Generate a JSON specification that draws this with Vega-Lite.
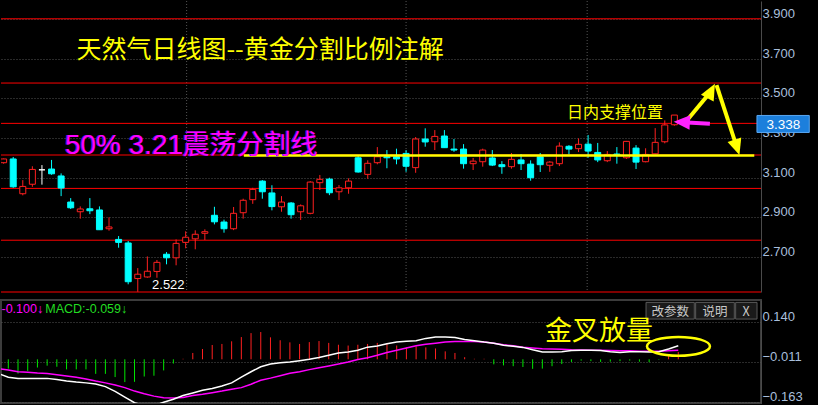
{
"$schema": "https://vega.github.io/schema/vega-lite/v6.json",
"background": "#000000",
"padding": {"left": 0, "top": 0, "right": 0, "bottom": 5},
"spacing": 6,
"config": {"view": {"stroke": null}, "axis": {"title": null}},
"resolve": {"scale": {"x": "independent", "y": "independent"}},
"datasets": {
"candles": [
{"k":0,"o":3.175,"c":3.194,"h":3.196,"l":3.170,"d":"up"},
{"k":1,"o":3.194,"c":3.053,"h":3.204,"l":3.048,"d":"down"},
{"k":2,"o":3.018,"c":3.055,"h":3.087,"l":3.010,"d":"up"},
{"k":3,"o":3.066,"c":3.141,"h":3.157,"l":3.053,"d":"up"},
{"k":4,"o":3.139,"c":3.139,"h":3.163,"l":3.064,"d":"flat"},
{"k":5,"o":3.143,"c":3.119,"h":3.189,"l":3.114,"d":"down"},
{"k":6,"o":3.108,"c":3.047,"h":3.121,"l":3.006,"d":"down"},
{"k":7,"o":2.976,"c":2.947,"h":2.996,"l":2.941,"d":"down"},
{"k":8,"o":2.927,"c":2.941,"h":2.954,"l":2.892,"d":"up"},
{"k":9,"o":2.942,"c":2.932,"h":2.996,"l":2.915,"d":"down"},
{"k":10,"o":2.936,"c":2.836,"h":2.954,"l":2.836,"d":"down"},
{"k":11,"o":2.841,"c":2.850,"h":2.899,"l":2.831,"d":"up"},
{"k":12,"o":2.787,"c":2.772,"h":2.804,"l":2.745,"d":"down"},
{"k":13,"o":2.769,"c":2.573,"h":2.779,"l":2.560,"d":"down"},
{"k":14,"o":2.589,"c":2.611,"h":2.642,"l":2.522,"d":"up"},
{"k":15,"o":2.597,"c":2.626,"h":2.701,"l":2.593,"d":"up"},
{"k":16,"o":2.625,"c":2.671,"h":2.683,"l":2.593,"d":"up"},
{"k":17,"o":2.712,"c":2.694,"h":2.723,"l":2.661,"d":"down"},
{"k":18,"o":2.694,"c":2.767,"h":2.787,"l":2.656,"d":"up"},
{"k":19,"o":2.772,"c":2.798,"h":2.828,"l":2.742,"d":"up"},
{"k":20,"o":2.790,"c":2.813,"h":2.833,"l":2.737,"d":"up"},
{"k":21,"o":2.818,"c":2.826,"h":2.838,"l":2.784,"d":"up"},
{"k":22,"o":2.909,"c":2.876,"h":2.952,"l":2.863,"d":"down"},
{"k":23,"o":2.875,"c":2.841,"h":2.887,"l":2.821,"d":"down"},
{"k":24,"o":2.841,"c":2.919,"h":2.951,"l":2.834,"d":"up"},
{"k":25,"o":2.922,"c":2.985,"h":2.993,"l":2.892,"d":"up"},
{"k":26,"o":2.988,"c":3.040,"h":3.048,"l":2.967,"d":"up"},
{"k":27,"o":3.082,"c":3.028,"h":3.087,"l":2.993,"d":"down"},
{"k":28,"o":3.022,"c":2.953,"h":3.061,"l":2.934,"d":"down"},
{"k":29,"o":2.952,"c":2.976,"h":3.006,"l":2.927,"d":"up"},
{"k":30,"o":2.971,"c":2.912,"h":2.976,"l":2.892,"d":"down"},
{"k":31,"o":2.927,"c":2.957,"h":2.964,"l":2.885,"d":"up"},
{"k":32,"o":2.919,"c":3.077,"h":3.082,"l":2.914,"d":"up"},
{"k":33,"o":3.074,"c":3.091,"h":3.113,"l":3.037,"d":"up"},
{"k":34,"o":3.092,"c":3.023,"h":3.099,"l":3.011,"d":"down"},
{"k":35,"o":3.028,"c":3.048,"h":3.062,"l":2.986,"d":"up"},
{"k":36,"o":3.048,"c":3.082,"h":3.096,"l":3.018,"d":"up"},
{"k":37,"o":3.200,"c":3.128,"h":3.209,"l":3.125,"d":"down"},
{"k":38,"o":3.116,"c":3.172,"h":3.187,"l":3.094,"d":"up"},
{"k":39,"o":3.175,"c":3.205,"h":3.254,"l":3.167,"d":"up"},
{"k":40,"o":3.205,"c":3.200,"h":3.239,"l":3.147,"d":"down"},
{"k":41,"o":3.205,"c":3.194,"h":3.246,"l":3.167,"d":"down"},
{"k":42,"o":3.222,"c":3.157,"h":3.239,"l":3.129,"d":"down"},
{"k":43,"o":3.150,"c":3.295,"h":3.305,"l":3.124,"d":"up"},
{"k":44,"o":3.295,"c":3.280,"h":3.349,"l":3.256,"d":"down"},
{"k":45,"o":3.281,"c":3.308,"h":3.340,"l":3.239,"d":"up"},
{"k":46,"o":3.310,"c":3.251,"h":3.340,"l":3.251,"d":"down"},
{"k":47,"o":3.244,"c":3.239,"h":3.295,"l":3.230,"d":"down"},
{"k":48,"o":3.244,"c":3.170,"h":3.269,"l":3.145,"d":"down"},
{"k":49,"o":3.170,"c":3.183,"h":3.199,"l":3.138,"d":"up"},
{"k":50,"o":3.180,"c":3.239,"h":3.246,"l":3.155,"d":"up"},
{"k":51,"o":3.199,"c":3.163,"h":3.239,"l":3.158,"d":"down"},
{"k":52,"o":3.165,"c":3.155,"h":3.183,"l":3.119,"d":"down"},
{"k":53,"o":3.155,"c":3.192,"h":3.224,"l":3.145,"d":"up"},
{"k":54,"o":3.189,"c":3.170,"h":3.219,"l":3.138,"d":"down"},
{"k":55,"o":3.168,"c":3.099,"h":3.187,"l":3.084,"d":"down"},
{"k":56,"o":3.205,"c":3.165,"h":3.224,"l":3.128,"d":"down"},
{"k":57,"o":3.162,"c":3.178,"h":3.183,"l":3.129,"d":"up"},
{"k":58,"o":3.170,"c":3.259,"h":3.278,"l":3.158,"d":"up"},
{"k":59,"o":3.258,"c":3.244,"h":3.264,"l":3.217,"d":"down"},
{"k":60,"o":3.246,"c":3.268,"h":3.298,"l":3.229,"d":"up"},
{"k":61,"o":3.269,"c":3.234,"h":3.315,"l":3.200,"d":"down"},
{"k":62,"o":3.227,"c":3.189,"h":3.275,"l":3.178,"d":"down"},
{"k":63,"o":3.185,"c":3.217,"h":3.234,"l":3.178,"d":"up"},
{"k":64,"o":3.219,"c":3.212,"h":3.254,"l":3.170,"d":"down"},
{"k":65,"o":3.200,"c":3.283,"h":3.285,"l":3.194,"d":"up"},
{"k":66,"o":3.249,"c":3.178,"h":3.264,"l":3.143,"d":"down"},
{"k":67,"o":3.180,"c":3.217,"h":3.248,"l":3.177,"d":"up"},
{"k":68,"o":3.220,"c":3.278,"h":3.350,"l":3.217,"d":"up"},
{"k":69,"o":3.281,"c":3.366,"h":3.389,"l":3.273,"d":"up"},
{"k":70,"o":3.367,"c":3.416,"h":3.416,"l":3.362,"d":"up"}
],
"macd": [
{"k":0,"hist":null,"dif":-0.054,"dea":-0.036},
{"k":1,"hist":-0.035,"dif":-0.068,"dea":-0.040},
{"k":2,"hist":-0.054,"dif":-0.072,"dea":-0.047},
{"k":3,"hist":-0.044,"dif":-0.072,"dea":-0.049},
{"k":4,"hist":-0.031,"dif":-0.072,"dea":-0.052},
{"k":5,"hist":-0.024,"dif":-0.072,"dea":-0.054},
{"k":6,"hist":-0.028,"dif":-0.076,"dea":-0.058},
{"k":7,"hist":-0.038,"dif":-0.082,"dea":-0.063},
{"k":8,"hist":-0.038,"dif":-0.086,"dea":-0.068},
{"k":9,"hist":-0.038,"dif":-0.089,"dea":-0.074},
{"k":10,"hist":-0.055,"dif":-0.093,"dea":-0.082},
{"k":11,"hist":-0.055,"dif":-0.103,"dea":-0.089},
{"k":12,"hist":-0.067,"dif":-0.121,"dea":-0.097},
{"k":13,"hist":-0.086,"dif":-0.143,"dea":-0.107},
{"k":14,"hist":-0.085,"dif":-0.164,"dea":-0.120},
{"k":15,"hist":-0.065,"dif":-0.175,"dea":-0.130},
{"k":16,"hist":-0.062,"dif":-0.175,"dea":-0.139},
{"k":17,"hist":-0.042,"dif":-0.162,"dea":-0.145},
{"k":18,"hist":-0.016,"dif":-0.151,"dea":-0.146},
{"k":19,"hist":0.002,"dif":-0.137,"dea":-0.144},
{"k":20,"hist":0.024,"dif":-0.127,"dea":-0.137},
{"k":21,"hist":0.039,"dif":-0.117,"dea":-0.132},
{"k":22,"hist":0.054,"dif":-0.110,"dea":-0.126},
{"k":23,"hist":0.058,"dif":-0.101,"dea":-0.120},
{"k":24,"hist":0.068,"dif":-0.089,"dea":-0.113},
{"k":25,"hist":0.084,"dif":-0.067,"dea":-0.107},
{"k":26,"hist":0.099,"dif":-0.047,"dea":-0.094},
{"k":27,"hist":0.103,"dif":-0.028,"dea":-0.079},
{"k":28,"hist":0.083,"dif":-0.018,"dea":-0.071},
{"k":29,"hist":0.072,"dif":-0.013,"dea":-0.062},
{"k":30,"hist":0.064,"dif":-0.010,"dea":-0.053},
{"k":31,"hist":0.058,"dif":-0.005,"dea":-0.047},
{"k":32,"hist":0.065,"dif":0.000,"dea":-0.039},
{"k":33,"hist":0.069,"dif":0.007,"dea":-0.032},
{"k":34,"hist":0.062,"dif":0.015,"dea":-0.025},
{"k":35,"hist":0.055,"dif":0.024,"dea":-0.018},
{"k":36,"hist":0.052,"dif":0.028,"dea":-0.010},
{"k":37,"hist":0.055,"dif":0.034,"dea":-0.001},
{"k":38,"hist":0.058,"dif":0.046,"dea":0.006},
{"k":39,"hist":0.062,"dif":0.050,"dea":0.015},
{"k":40,"hist":0.060,"dif":0.059,"dea":0.026},
{"k":41,"hist":0.052,"dif":0.065,"dea":0.034},
{"k":42,"hist":0.045,"dif":0.068,"dea":0.043},
{"k":43,"hist":0.049,"dif":0.070,"dea":0.051},
{"k":44,"hist":0.045,"dif":0.079,"dea":0.057},
{"k":45,"hist":0.041,"dif":0.084,"dea":0.061},
{"k":46,"hist":0.030,"dif":0.084,"dea":0.065},
{"k":47,"hist":0.024,"dif":0.082,"dea":0.067},
{"k":48,"hist":0.008,"dif":0.075,"dea":0.067},
{"k":49,"hist":0.002,"dif":0.070,"dea":0.067},
{"k":50,"hist":0.002,"dif":0.065,"dea":0.065},
{"k":51,"hist":-0.019,"dif":0.061,"dea":0.061},
{"k":52,"hist":-0.023,"dif":0.053,"dea":0.055},
{"k":53,"hist":-0.026,"dif":0.049,"dea":0.051},
{"k":54,"hist":-0.029,"dif":0.045,"dea":0.046},
{"k":55,"hist":-0.036,"dif":0.036,"dea":0.043},
{"k":56,"hist":-0.035,"dif":0.028,"dea":0.040},
{"k":57,"hist":-0.026,"dif":0.028,"dea":0.039},
{"k":58,"hist":-0.018,"dif":0.029,"dea":0.038},
{"k":59,"hist":-0.010,"dif":0.033,"dea":0.036},
{"k":60,"hist":-0.005,"dif":0.034,"dea":0.035},
{"k":61,"hist":-0.007,"dif":0.034,"dea":0.034},
{"k":62,"hist":-0.010,"dif":0.033,"dea":0.034},
{"k":63,"hist":-0.009,"dif":0.029,"dea":0.033},
{"k":64,"hist":-0.007,"dif":0.026,"dea":0.032},
{"k":65,"hist":-0.005,"dif":0.029,"dea":0.032},
{"k":66,"hist":-0.009,"dif":0.029,"dea":0.030},
{"k":67,"hist":-0.011,"dif":0.028,"dea":0.030},
{"k":68,"hist":-0.002,"dif":0.029,"dea":0.030},
{"k":69,"hist":0.012,"dif":0.039,"dea":0.032},
{"k":70,"hist":0.028,"dif":0.051,"dea":0.034}
],
"fib": [{"p":2.521},{"p":2.783},{"p":3.045},{"p":3.214},{"p":3.374},{"p":3.578},{"p":3.903}],
"vlines": [{"k":19.1},{"k":42.0},{"k":60.9}],
"shafts": [
{"id":"A","k1":71.0,"p1":3.371,"k2":73.79,"p2":3.534},
{"id":"B","k1":74.40,"p1":3.568,"k2":76.50,"p2":3.257},
{"id":"M","k1":73.71,"p1":3.372,"k2":70.87,"p2":3.380}
],
"heads": [
{"id":"A","k":73.79,"p":3.534},
{"id":"B","k":76.50,"p":3.257},
{"id":"M","k":70.87,"p":3.380}
],
"buttons": [
{"t":"改参数","k1":66.68,"k2":71.65,"kc":69.17},
{"t":"说明","k1":71.79,"k2":75.77,"kc":73.78},
{"t":"X","k1":75.91,"k2":78.11,"kc":76.99}
]
},
"vconcat": [
{
"width": 760, "height": 291,
"layer": [
{"data": {"name": "vlines"}, "mark": {"type": "rule", "color": "#555555", "strokeDash": [1, 2], "strokeWidth": 1},
 "encoding": {"x": {"field": "k", "type": "quantitative", "scale": {"domain": [0.248, 78.52], "nice": false, "zero": false}, "axis": null}}},
{"data": {"name": "fib"}, "mark": {"type": "rule", "color": "#ff0000", "strokeWidth": 1},
 "encoding": {"y": {"field": "p", "type": "quantitative", "title": null, "scale": {"domain": [2.521, 3.993], "nice": false, "zero": false},
  "axis": {"orient": "right", "values": [2.7, 2.9, 3.1, 3.3, 3.5, 3.7, 3.9], "format": ".3f", "grid": true, "gridColor": "#555555", "gridDash": [1, 2], "domain": true, "domainColor": "#4a4a4a", "ticks": false, "labelColor": "#a9bfdc", "labelFont": "Liberation Sans", "labelFontSize": 13, "labelPadding": 1, "labelBaseline": "alphabetic", "labelOffset": -1.5, "labelFlush": false, "labelOverlap": false, "minExtent": 58, "maxExtent": 58, "title": null}}}},
{"data": {"name": "candles"}, "mark": {"type": "rule", "strokeWidth": 1, "clip": true},
 "encoding": {"x": {"field": "k", "type": "quantitative", "scale": {"domain": [0.248, 78.52], "nice": false, "zero": false}, "axis": null},
  "y": {"field": "h", "type": "quantitative", "title": null, "scale": {"domain": [2.521, 3.993], "nice": false, "zero": false}},
  "y2": {"field": "l"},
  "color": {"field": "d", "type": "nominal", "scale": {"domain": ["up", "down", "flat"], "range": ["#ff2020", "#00ffff", "#ffffff"]}, "legend": null}}},
{"data": {"name": "candles"}, "mark": {"type": "bar", "size": 6, "strokeWidth": 1, "clip": true},
 "encoding": {"x": {"field": "k", "type": "quantitative", "scale": {"domain": [0.248, 78.52], "nice": false, "zero": false}, "axis": null},
  "y": {"field": "o", "type": "quantitative", "title": null, "scale": {"domain": [2.521, 3.993], "nice": false, "zero": false}},
  "y2": {"field": "c"},
  "fill": {"field": "d", "type": "nominal", "scale": {"domain": ["up", "down", "flat"], "range": ["#000000", "#00ffff", "#ffffff"]}, "legend": null},
  "stroke": {"field": "d", "type": "nominal", "scale": {"domain": ["up", "down", "flat"], "range": ["#ff2020", "#00ffff", "#ffffff"]}, "legend": null}}},
{"data": {"values": [{"k1": 25.07, "k2": 78.34, "p": 3.211}]}, "mark": {"type": "rule", "color": "#ffff00", "strokeWidth": 2.5},
 "encoding": {"x": {"field": "k1", "type": "quantitative", "axis": null},
  "x2": {"field": "k2"},
  "y": {"field": "p", "type": "quantitative", "title": null}}},
{"data": {"values": [{"t": "天然气日线图--黄金分割比例注解", "k": 7.6, "p": 3.704}]}, "mark": {"type": "text", "align": "left", "baseline": "alphabetic", "font": "Noto Sans CJK SC", "fontSize": 25, "color": "#ffff00"},
 "encoding": {"x": {"field": "k", "type": "quantitative", "axis": null}, "y": {"field": "p", "type": "quantitative", "title": null}, "text": {"field": "t"}}},
{"data": {"values": [{"t": "50% 3.21", "k": 6.4, "p": 3.220}]}, "mark": {"type": "text", "align": "left", "baseline": "alphabetic", "font": "Liberation Sans", "fontSize": 28, "color": "#5a1ae0", "dx": -1},
 "encoding": {"x": {"field": "k", "type": "quantitative", "axis": null}, "y": {"field": "p", "type": "quantitative", "title": null}, "text": {"field": "t"}}},
{"data": {"values": [{"t": "50% 3.21", "k": 6.4, "p": 3.220}]}, "mark": {"type": "text", "align": "left", "baseline": "alphabetic", "font": "Liberation Sans", "fontSize": 28, "color": "#ff00ff"},
 "encoding": {"x": {"field": "k", "type": "quantitative", "axis": null}, "y": {"field": "p", "type": "quantitative", "title": null}, "text": {"field": "t"}}},
{"data": {"values": [{"t": "震荡分割线", "k": 18.7, "p": 3.220}]}, "mark": {"type": "text", "align": "left", "baseline": "alphabetic", "font": "Noto Sans CJK SC", "fontSize": 27, "color": "#5a1ae0", "dx": -1},
 "encoding": {"x": {"field": "k", "type": "quantitative", "axis": null}, "y": {"field": "p", "type": "quantitative", "title": null}, "text": {"field": "t"}}},
{"data": {"values": [{"t": "震荡分割线", "k": 18.7, "p": 3.220}]}, "mark": {"type": "text", "align": "left", "baseline": "alphabetic", "font": "Noto Sans CJK SC", "fontSize": 27, "color": "#ff00ff"},
 "encoding": {"x": {"field": "k", "type": "quantitative", "axis": null}, "y": {"field": "p", "type": "quantitative", "title": null}, "text": {"field": "t"}}},
{"data": {"values": [{"t": "日内支撑位置", "k": 58.8, "p": 3.402}]}, "mark": {"type": "text", "align": "left", "baseline": "alphabetic", "font": "Noto Sans CJK SC", "fontSize": 16, "color": "#ffff00"},
 "encoding": {"x": {"field": "k", "type": "quantitative", "axis": null}, "y": {"field": "p", "type": "quantitative", "title": null}, "text": {"field": "t"}}},
{"data": {"values": [{"t": "2.522", "k": 15.49, "p": 2.534}]}, "mark": {"type": "text", "align": "left", "baseline": "alphabetic", "font": "Liberation Sans", "fontSize": 13, "color": "#ffffff"},
 "encoding": {"x": {"field": "k", "type": "quantitative", "axis": null}, "y": {"field": "p", "type": "quantitative", "title": null}, "text": {"field": "t"}}},
{"data": {"name": "shafts"}, "transform": [{"filter": "datum.id != 'M'"}], "mark": {"type": "rule", "color": "#ffff00", "strokeWidth": 4},
 "encoding": {"x": {"field": "k1", "type": "quantitative", "axis": null}, "x2": {"field": "k2"}, "y": {"field": "p1", "type": "quantitative", "title": null}, "y2": {"field": "p2"}}},
{"data": {"name": "shafts"}, "transform": [{"filter": "datum.id == 'M'"}], "mark": {"type": "rule", "color": "#ff22ff", "strokeWidth": 4},
 "encoding": {"x": {"field": "k1", "type": "quantitative", "axis": null}, "x2": {"field": "k2"}, "y": {"field": "p1", "type": "quantitative", "title": null}, "y2": {"field": "p2"}}},
{"data": {"name": "heads"}, "transform": [{"filter": "datum.id == 'A'"}], "mark": {"type": "point", "shape": "M0,-1L0.8,0.8L-0.8,0.8Z", "filled": true, "opacity": 1, "size": 324, "angle": 28, "color": "#ffff00"},
 "encoding": {"x": {"field": "k", "type": "quantitative", "axis": null}, "y": {"field": "p", "type": "quantitative", "title": null}}},
{"data": {"name": "heads"}, "transform": [{"filter": "datum.id == 'B'"}], "mark": {"type": "point", "shape": "M0,-1L0.8,0.8L-0.8,0.8Z", "filled": true, "opacity": 1, "size": 324, "angle": 162, "color": "#ffff00"},
 "encoding": {"x": {"field": "k", "type": "quantitative", "axis": null}, "y": {"field": "p", "type": "quantitative", "title": null}}},
{"data": {"name": "heads"}, "transform": [{"filter": "datum.id == 'M'"}], "mark": {"type": "point", "shape": "M0,-1L0.8,0.8L-0.8,0.8Z", "filled": true, "opacity": 1, "size": 324, "angle": 273, "color": "#ff22ff"},
 "encoding": {"x": {"field": "k", "type": "quantitative", "axis": null}, "y": {"field": "p", "type": "quantitative", "title": null}}},
{"data": {"values": [{"k1": 78.62, "k2": 84.08, "p1": 3.414, "p2": 3.328}]}, "mark": {"type": "rect", "fill": "#1c7fdc", "stroke": "#5aa8f2", "strokeWidth": 1, "clip": false},
 "encoding": {"x": {"field": "k1", "type": "quantitative", "axis": null}, "x2": {"field": "k2"}, "y": {"field": "p1", "type": "quantitative", "title": null}, "y2": {"field": "p2"}}},
{"data": {"values": [{"t": "3.338", "k": 81.37, "p": 3.344}]}, "mark": {"type": "text", "align": "center", "baseline": "alphabetic", "font": "Liberation Sans", "fontSize": 13.5, "color": "#ffffff", "clip": false},
 "encoding": {"x": {"field": "k", "type": "quantitative", "axis": null}, "y": {"field": "p", "type": "quantitative", "title": null}, "text": {"field": "t"}}}
]
},
{
"width": 760, "height": 103,
"view": {"stroke": "#3c3c3c", "strokeWidth": 2},
"layer": [
{"data": {"name": "macd"}, "transform": [{"filter": "datum.hist != null"}], "mark": {"type": "rule", "strokeWidth": 1},
 "encoding": {"x": {"field": "k", "type": "quantitative", "scale": {"domain": [0.248, 78.52], "nice": false, "zero": false}, "axis": null},
  "y": {"field": "hist", "type": "quantitative", "title": null, "scale": {"domain": [-0.165, 0.224], "nice": false, "zero": false},
   "axis": {"orient": "right", "values": [0.14, -0.011, -0.163], "format": ".3f", "grid": true, "gridColor": "#555555", "gridDash": [1, 2], "domain": true, "domainColor": "#4a4a4a", "ticks": false, "labelColor": "#a9bfdc", "labelFont": "Liberation Sans", "labelFontSize": 13, "labelPadding": 1, "labelBaseline": "alphabetic", "labelOffset": -2, "labelFlush": false, "labelOverlap": false, "minExtent": 58, "maxExtent": 58, "title": null}},
  "y2": {"datum": 0},
  "color": {"condition": {"test": "datum.hist >= 0", "value": "#ff2020"}, "value": "#00e600"}}},
{"data": {"name": "macd"}, "mark": {"type": "line", "color": "#ff00ff", "strokeWidth": 1.5, "clip": true},
 "encoding": {"x": {"field": "k", "type": "quantitative", "axis": null}, "y": {"field": "dea", "type": "quantitative", "title": null}}},
{"data": {"name": "macd"}, "mark": {"type": "line", "color": "#ffffff", "strokeWidth": 1.5, "clip": true},
 "encoding": {"x": {"field": "k", "type": "quantitative", "axis": null}, "y": {"field": "dif", "type": "quantitative", "title": null}}},
{"data": {"values": [{"t": "-0.100↓", "k": 0.3, "v": 0.175}]}, "mark": {"type": "text", "align": "left", "baseline": "alphabetic", "font": "Liberation Sans", "fontSize": 12.5, "color": "#ff00ff"},
 "encoding": {"x": {"field": "k", "type": "quantitative", "axis": null}, "y": {"field": "v", "type": "quantitative", "title": null}, "text": {"field": "t"}}},
{"data": {"values": [{"t": "MACD:-0.059↓", "k": 4.81, "v": 0.175}]}, "mark": {"type": "text", "align": "left", "baseline": "alphabetic", "font": "Liberation Sans", "fontSize": 12.5, "color": "#22dd22"},
 "encoding": {"x": {"field": "k", "type": "quantitative", "axis": null}, "y": {"field": "v", "type": "quantitative", "title": null}, "text": {"field": "t"}}},
{"data": {"name": "buttons"}, "mark": {"type": "rect", "fill": "#1a1a1a", "stroke": "#5a5a5a", "strokeWidth": 1},
 "encoding": {"x": {"field": "k1", "type": "quantitative", "axis": null}, "x2": {"field": "k2"}, "y": {"datum": 0.215, "type": "quantitative", "title": null}, "y2": {"datum": 0.152}}},
{"data": {"name": "buttons"}, "mark": {"type": "text", "align": "center", "baseline": "alphabetic", "font": "Noto Sans CJK SC", "fontSize": 12.5, "color": "#c8c8c8"},
 "encoding": {"x": {"field": "kc", "type": "quantitative", "axis": null}, "y": {"datum": 0.165, "type": "quantitative", "title": null}, "text": {"field": "t"}}},
{"data": {"values": [{"t": "金叉放量", "k": 56.27, "v": 0.072}]}, "mark": {"type": "text", "align": "left", "baseline": "alphabetic", "font": "Noto Sans CJK SC", "fontSize": 27, "color": "#ffff00"},
 "encoding": {"x": {"field": "k", "type": "quantitative", "axis": null}, "y": {"field": "v", "type": "quantitative", "title": null}, "text": {"field": "t"}}},
{"data": {"values": [{"k": 70.02, "v": 0.049}]}, "mark": {"type": "point", "shape": "M-1,0A1,0.3,0,1,0,1,0A1,0.3,0,1,0,-1,0Z", "filled": false, "opacity": 1, "size": 3969, "color": "#ffff00", "strokeWidth": 2.5},
 "encoding": {"x": {"field": "k", "type": "quantitative", "axis": null}, "y": {"field": "v", "type": "quantitative", "title": null}}}
]
}
]
}
